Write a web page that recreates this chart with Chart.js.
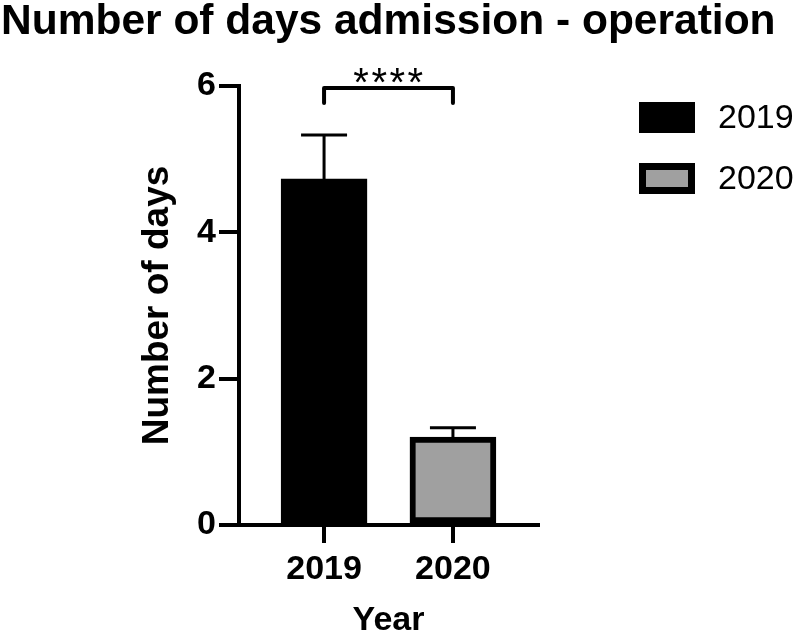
<!DOCTYPE html>
<html>
<head>
<meta charset="utf-8">
<script src="https://cdn.jsdelivr.net/npm/chart.js@4"></script>
<style>
html,body{margin:0;padding:0;background:#fff;}
#wrap{width:800px;height:638px;position:relative;}
</style>
</head>
<body>
<div id="wrap"><canvas id="c" width="800" height="638"></canvas></div>
<script>
const categories = ['2019', '2020'];
const means = [4.73, 1.20];
const errors = [0.60, 0.13];
const barColors = ['#000000', '#a0a0a0'];
const yTicks = [0, 2, 4, 6];
const significance = '****';
const chartTitle = 'Number of days admission - operation';

const FONT = '"Liberation Sans", Arial, Helvetica, sans-serif';

const overlay = {
  id: 'overlay',
  afterDatasetsDraw(chart) {
    const ctx = chart.ctx;
    const xs = chart.scales.x, ys = chart.scales.y;
    ctx.save();
    // title
    ctx.fillStyle = '#000';
    ctx.font = 'bold 42.5px ' + FONT;
    ctx.textAlign = 'left';
    ctx.textBaseline = 'alphabetic';
    ctx.fillText(chartTitle, 1, 34);
    // error bars (upper only)
    ctx.strokeStyle = '#000';
    ctx.lineWidth = 3;
    means.forEach((m, i) => {
      const x = xs.getPixelForValue(i);
      const y0 = ys.getPixelForValue(m);
      const y1 = ys.getPixelForValue(m + errors[i]);
      ctx.beginPath();
      ctx.moveTo(x, y0);
      ctx.lineTo(x, y1);
      ctx.moveTo(x - 23, y1);
      ctx.lineTo(x + 23, y1);
      ctx.stroke();
    });
    // significance bracket
    const xa = xs.getPixelForValue(0), xb = xs.getPixelForValue(1);
    const yTop = ys.getPixelForValue(6) + 2;
    ctx.lineWidth = 4;
    ctx.lineJoin = 'round';
    ctx.lineCap = 'round';
    ctx.beginPath();
    ctx.moveTo(xa, yTop + 15);
    ctx.lineTo(xa, yTop);
    ctx.lineTo(xb, yTop);
    ctx.lineTo(xb, yTop + 15);
    ctx.stroke();
    ctx.fillStyle = '#000';
    ctx.font = '40px ' + FONT;
    ctx.textAlign = 'center';
    ctx.textBaseline = 'alphabetic';
    try { ctx.letterSpacing = '2.5px'; } catch (e) {}
    ctx.fillText(significance, (xa + xb) / 2 + 1, yTop + 8);
    try { ctx.letterSpacing = '0px'; } catch (e) {}
    // legend
    const lx = 639, bw = 56, bh = 31;
    const lys = [102, 163];
    categories.forEach((c, i) => {
      const ly = lys[i];
      ctx.fillStyle = '#000';
      ctx.fillRect(lx, ly, bw, bh);
      if (barColors[i] !== '#000000') {
        ctx.fillStyle = barColors[i];
        ctx.fillRect(lx + 7, ly + 7, bw - 14, bh - 14);
      }
      ctx.fillStyle = '#000';
      ctx.font = '34px ' + FONT;
      ctx.textAlign = 'left';
      ctx.textBaseline = 'middle';
      ctx.fillText(c, 718, ly + bh / 2 + 1);
    });
    ctx.restore();
  }
};

new Chart(document.getElementById('c'), {
  type: 'bar',
  data: {
    datasets: [{
      label: 'Number of days',
      data: categories.map((c, i) => ({ x: i, y: means[i] })),
      backgroundColor: barColors,
      borderColor: '#000',
      borderWidth: 6,
      borderSkipped: false,
      barThickness: 86
    }]
  },
  options: {
    responsive: false,
    animation: false,
    layout: { padding: { left: 0, right: 262, top: 86, bottom: 0 } },
    plugins: {
      legend: { display: false },
      tooltip: { enabled: false },
      title: { display: false }
    },
    scales: {
      x: {
        type: 'linear',
        offset: false,
        min: -0.66,
        max: 1.66,
        afterBuildTicks(scale) { scale.ticks = categories.map((c, i) => ({ value: i })); },
        afterFit(scale) { scale.height = 113; },
        ticks: {
          callback: (v) => categories[v],
          color: '#000',
          font: { family: FONT, size: 34, weight: 'bold' },
          padding: 6,
          maxRotation: 0,
          autoSkip: false
        },
        grid: { display: true, offset: false, drawOnChartArea: false, drawTicks: true, tickLength: 18, color: '#000', lineWidth: 4 },
        border: { display: true, color: '#000', width: 4 },
        title: {
          display: true,
          text: 'Year',
          color: '#000',
          font: { family: FONT, size: 34, weight: 'bold', lineHeight: 1.0 },
          padding: { top: 0, bottom: 0 }
        }
      },
      y: {
        min: 0,
        max: 6,
        afterBuildTicks(scale) { scale.ticks = yTicks.map(v => ({ value: v })); },
        afterFit(scale) { scale.width = 239; },
        ticks: {
          color: '#000',
          font: { family: FONT, size: 34, weight: 'bold' },
          padding: 3
        },
        grid: { display: true, drawOnChartArea: false, drawTicks: true, tickLength: 20, color: '#000', lineWidth: 4 },
        border: { display: true, color: '#000', width: 4 },
        title: {
          display: true,
          text: 'Number of days',
          color: '#000',
          font: { family: FONT, size: 37, weight: 'bold', lineHeight: 1.0 },
          padding: { top: 139, bottom: 0 }
        }
      }
    }
  },
  plugins: [overlay]
});
</script>
</body>
</html>
